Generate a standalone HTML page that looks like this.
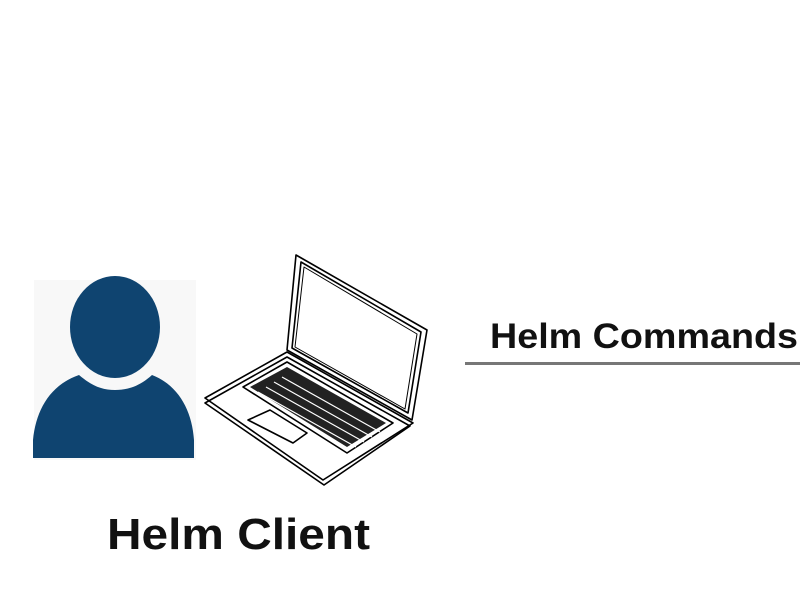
<!DOCTYPE html>
<html><head><style>
html,body{margin:0;padding:0;background:#fff;}
svg{display:block}
</style></head><body>
<svg width="800" height="595" viewBox="0 0 800 595" xmlns="http://www.w3.org/2000/svg">
<rect width="800" height="595" fill="#fff"/>
<rect x="34" y="280" width="162" height="180" fill="#f8f8f8"/>
<ellipse cx="115" cy="327" rx="45" ry="51" fill="#0f4470"/>
<path d="M33,458 L33,440 C36,410 50,385 79,375 C92,386 102,390 115,390 C128,390 140,386 152,375 C178,385 192,410 194,440 L194,458 Z" fill="#0f4470"/>
<g fill="none" stroke="#000" stroke-width="1.6" stroke-linejoin="round">
<polygon points="296,255 427,330 412,420 287,350"/>
<polygon points="301,262 421,332 408,413 292,348"/>
<polygon points="304,267 417,334 405,409 295,347" stroke-width="1"/>
<polygon points="287,352 413,423 323,480 205,398"/>
<polygon points="287,357 410,426 324,485 205,403"/>
<polygon points="243,387 287,362 393,423 347,453"/>
<polygon points="248,420 270,410 307,433 293,443"/>
</g>
<polygon points="250,387 287,367 386,423 347,447" fill="#222"/>
<g stroke="#fff" stroke-width="1.2">
<line x1="258" y1="392" x2="356" y2="447"/>
<line x1="266" y1="387" x2="364" y2="442"/>
<line x1="274" y1="382" x2="372" y2="437"/>
<line x1="282" y1="377" x2="380" y2="432"/>
</g>
<text x="107" y="549" font-family="Liberation Sans, sans-serif" font-size="44" font-weight="bold" fill="#111" textLength="263" lengthAdjust="spacingAndGlyphs">Helm Client</text>
<text x="490" y="348" font-family="Liberation Sans, sans-serif" font-size="35" font-weight="bold" fill="#111" textLength="308" lengthAdjust="spacingAndGlyphs">Helm Commands</text>
<rect x="465" y="362" width="335" height="3" fill="#777"/>
</svg>
</body></html>
